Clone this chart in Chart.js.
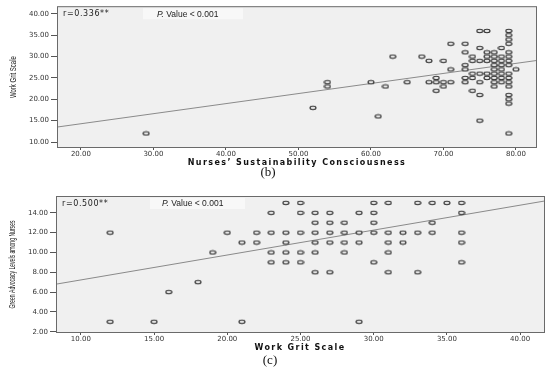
<!DOCTYPE html>
<html>
<head>
<meta charset="utf-8">
<script src="https://cdn.jsdelivr.net/npm/chart.js@4/dist/chart.umd.min.js"></script>
<style>
  body { margin: 0; background: #fff; width: 550px; height: 372px; position: relative; overflow: hidden; }
  canvas { position: absolute; left: 0; }
  #chartB { top: 0; }
  #chartC { top: 186px; }
</style>
</head>
<body>
<canvas id="chartB" width="550" height="186"></canvas>
<canvas id="chartC" width="550" height="186"></canvas>
<script>
// panel (b): [sustainability consciousness, work grit]
const pointsB = [
  [75, 36], [76, 36], [79, 36], [79, 35], [79, 34],
  [71, 33], [73, 33], [79, 33], [75, 32], [78, 32],
  [73, 31], [76, 31], [77, 31], [79, 31],
  [63, 30], [67, 30], [74, 30], [76, 30], [77, 30], [78, 30], [79, 30],
  [68, 29], [70, 29], [74, 29], [75, 29], [76, 29], [77, 29], [78, 29], [79, 29],
  [73, 28], [77, 28], [78, 28], [79, 28],
  [71, 27], [73, 27], [77, 27], [78, 27], [80, 27],
  [74, 26], [75, 26], [76, 26], [77, 26], [78, 26], [79, 26],
  [69, 25], [73, 25], [74, 25], [76, 25], [77, 25], [78, 25], [79, 25],
  [54, 24], [60, 24], [65, 24], [68, 24], [69, 24], [70, 24], [71, 24], [73, 24], [75, 24], [77, 24], [78, 24], [79, 24],
  [54, 23], [62, 23], [70, 23], [77, 23], [79, 23],
  [69, 22], [74, 22], [75, 21], [79, 21], [79, 20], [79, 19],
  [52, 18], [61, 16], [75, 15], [29, 12], [79, 12],
]
const fitB = [{ x: 16.7, y: 13.5 }, { x: 82.9, y: 29.1 }]
const xTicksB = [20, 30, 40, 50, 60, 70, 80]
const yTicksB = [10, 15, 20, 25, 30, 35, 40]

// panel (c): [work grit, green advocacy]
const pointsC = [
  [24, 15], [25, 15], [30, 15], [31, 15], [33, 15], [34, 15], [35, 15], [36, 15],
  [23, 14], [25, 14], [26, 14], [27, 14], [29, 14], [30, 14], [36, 14],
  [26, 13], [27, 13], [28, 13], [30, 13], [34, 13],
  [12, 12], [20, 12], [22, 12], [23, 12], [24, 12], [25, 12], [26, 12], [27, 12], [28, 12],
  [29, 12], [30, 12], [31, 12], [32, 12], [33, 12], [34, 12], [36, 12],
  [21, 11], [22, 11], [24, 11], [26, 11], [27, 11], [28, 11], [29, 11], [31, 11], [32, 11], [36, 11],
  [19, 10], [23, 10], [24, 10], [25, 10], [26, 10], [28, 10], [31, 10],
  [23, 9], [24, 9], [25, 9], [30, 9], [36, 9],
  [26, 8], [27, 8], [31, 8], [33, 8],
  [18, 7], [16, 6], [12, 3], [15, 3], [21, 3], [29, 3],
]
const fitC = [{ x: 8.3, y: 6.8 }, { x: 41.7, y: 15.2 }]
const xTicksC = [10, 15, 20, 25, 30, 35, 40]
const yTicksC = [2, 4, 6, 8, 10, 12, 14]

// SPSS style hollow ellipse marker
const marker = document.createElement('canvas')
marker.width = 8
marker.height = 6
const mctx = marker.getContext('2d')
mctx.beginPath()
mctx.ellipse(4, 3, 3, 1.7, 0, 0, Math.PI * 2)
mctx.fillStyle = '#e6e6e6'
mctx.fill()
mctx.strokeStyle = '#333'
mctx.lineWidth = 1.1
mctx.stroke()

const notes = {
  id: 'notes',
  beforeDraw(chart, args, o) {
    const a = chart.chartArea
    const ctx = chart.ctx
    ctx.save()
    ctx.fillStyle = '#f0f0f0'
    ctx.fillRect(a.left, a.top, a.right - a.left, a.bottom - a.top)
    ctx.restore()
  },
  afterDraw(chart, args, o) {
    const a = chart.chartArea
    const ctx = chart.ctx
    ctx.save()
    ctx.strokeStyle = '#6a6a6a'
    ctx.lineWidth = 1
    ctx.strokeRect(a.left + 0.5, a.top + 0.5, a.right - a.left - 1, a.bottom - a.top - 1)

    // p-value box
    ctx.fillStyle = '#f8f8f8'
    ctx.fillRect(o.boxX, a.top + 2, o.boxW, 11)
    ctx.textBaseline = 'middle'
    ctx.fillStyle = '#222'
    ctx.letterSpacing = '0.6px'
    ctx.font = '8px "DejaVu Sans"'
    ctx.fillText(o.r, a.left + 6, a.top + 8)
    ctx.letterSpacing = '0px'
    ctx.font = 'italic 8.5px "Liberation Sans"'
    ctx.fillText('P.', o.pX, a.top + 8)
    const w = ctx.measureText('P. ').width
    ctx.font = '8.5px "Liberation Sans"'
    ctx.fillText('Value < 0.001', o.pX + w, a.top + 8)

    // x title
    ctx.font = 'bold 8px "DejaVu Sans"'
    ctx.letterSpacing = '1.4px'
    ctx.textAlign = 'center'
    ctx.fillStyle = '#111'
    ctx.fillText(o.xTitle, o.xTitleX, o.xTitleY)
    ctx.letterSpacing = '0px'

    // y title, squeezed
    ctx.translate(o.yTitleX, (a.top + a.bottom) / 2)
    ctx.rotate(-Math.PI / 2)
    ctx.font = '9px "Liberation Sans Narrow", "Liberation Sans"'
    ctx.fillText(o.yTitle, 0, 0, o.yTitleLen)
    ctx.restore()

    ctx.save()
    ctx.font = '13px "Liberation Serif"'
    ctx.textAlign = 'center'
    ctx.textBaseline = 'middle'
    ctx.fillStyle = '#111'
    ctx.fillText(o.panel, o.panelX, o.panelY)
    ctx.restore()
  },
}

function makeChart(id, points, fit, xTicks, yTicks, cfg) {
  const tickFont = { family: 'DejaVu Sans', size: 7 }
  return new Chart(document.getElementById(id), {
    type: 'scatter',
    data: {
      datasets: [
        {
          data: points.map((p) => ({ x: p[0], y: p[1] })),
          pointStyle: marker,
          pointRadius: 3,
        },
        {
          data: fit,
          showLine: true,
          borderColor: '#8a8a8a',
          borderWidth: 1,
          pointRadius: 0,
        },
      ],
    },
    options: {
      responsive: false,
      animation: false,
      layout: { padding: cfg.padding },
      plugins: {
        legend: { display: false },
        tooltip: { enabled: false },
        notes: cfg.notes,
      },
      scales: {
        x: {
          type: 'linear',
          min: cfg.xMin,
          max: cfg.xMax,
          afterBuildTicks: (s) => { s.ticks = xTicks.map((v) => ({ value: v })) },
          afterFit: (s) => { s.height = cfg.xHeight },
          border: { display: false },
          grid: { drawOnChartArea: false, drawTicks: true, tickLength: 2, color: '#555' },
          ticks: { font: tickFont, color: '#333', padding: 0, maxRotation: 0, callback: (v) => v.toFixed(2) },
        },
        y: {
          type: 'linear',
          min: cfg.yMin,
          max: cfg.yMax,
          afterBuildTicks: (s) => { s.ticks = yTicks.map((v) => ({ value: v })) },
          afterFit: (s) => { s.width = cfg.yWidth },
          border: { display: false },
          grid: { drawOnChartArea: false, drawTicks: true, tickLength: 6, color: '#555' },
          ticks: { font: tickFont, color: '#333', padding: 2, callback: (v) => v.toFixed(2) },
        },
      },
    },
    plugins: [notes],
  })
}

makeChart('chartB', pointsB, fitB, xTicksB, yTicksB, {
  padding: { top: 4, right: 13, left: 0, bottom: 0 },
  xMin: 16.7, xMax: 82.9, yMin: 8.6, yMax: 41.8,
  xHeight: 38, yWidth: 57,
  notes: {
    r: 'r=0.336**', boxX: 143, boxW: 100, pX: 157,
    xTitle: 'Nurses\u2019 Sustainability Consciousness', xTitleX: 297, xTitleY: 162.5,
    yTitle: 'Work Grit Scale', yTitleX: 14, yTitleLen: 42,
    panel: '(b)', panelX: 268, panelY: 173,
  },
})

makeChart('chartC', pointsC, fitC, xTicksC, yTicksC, {
  padding: { top: 10, right: 5, left: 0, bottom: 0 },
  xMin: 8.3, xMax: 41.7, yMin: 1.87, yMax: 15.7,
  xHeight: 39, yWidth: 56,
  notes: {
    r: 'r=0.500**', boxX: 150, boxW: 95, pX: 162,
    xTitle: 'Work Grit Scale', xTitleX: 300, xTitleY: 161.5,
    yTitle: 'Green Advocacy Levels among Nurses', yTitleX: 13, yTitleLen: 88,
    panel: '(c)', panelX: 270, panelY: 175,
  },
})
</script>
</body>
</html>
